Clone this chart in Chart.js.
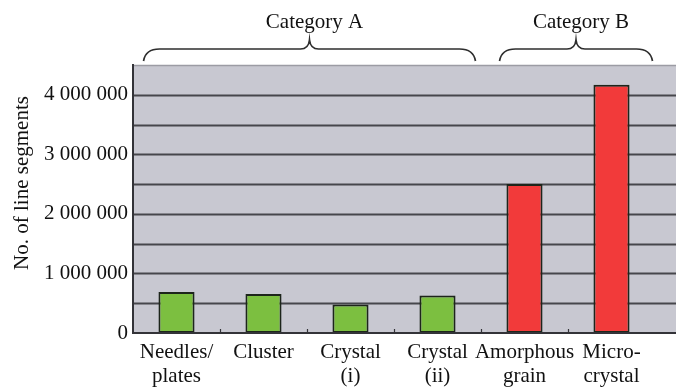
<!DOCTYPE html>
<html>
<head>
<meta charset="utf-8">
<script src="https://cdn.jsdelivr.net/npm/chart.js@4.4.1/dist/chart.umd.min.js"></script>
<style>
  html, body { margin: 0; padding: 0; background: #ffffff; overflow: hidden; }
  canvas { display: block; }
</style>
</head>
<body>
<canvas id="chart" width="676" height="387"></canvas>
<script>
// Particle shapes and their line-segment counts
const categories = [
  ['Needles/', 'plates'],
  ['Cluster'],
  ['Crystal', '(i)'],
  ['Crystal', '(ii)'],
  ['Amorphous', 'grain'],
  ['Micro-', 'crystal']
];
const segmentCounts = [690000, 655000, 480000, 630000, 2500000, 4170000];
const categoryGroup = [0, 0, 0, 0, 1, 1];
const groupNames = ['Category A', 'Category B'];
const groupColors = ['#7cbf40', '#f23a3a'];

const yTickValues = [0, 1000000, 2000000, 3000000, 4000000];
const yTickLabels = ['0', '1 000 000', '2 000 000', '3 000 000', '4 000 000'];
const yMax = 4500000;
const gridStep = 500000;

const SERIF = '"Liberation Serif", "Times New Roman", "DejaVu Serif", serif';
const INK = '#111111';

// Gray panel and horizontal rules, carried on to the right edge of the canvas
const plotDecor = {
  id: 'plotDecor',
  beforeDraw(chart) {
    const { ctx, chartArea: a, scales: { y } } = chart;
    const right = chart.width;
    ctx.save();
    ctx.fillStyle = '#c8c8d1';
    ctx.fillRect(a.left, a.top, right - a.left, a.bottom - a.top);
    ctx.strokeStyle = '#9c9ca4';
    ctx.lineWidth = 1.5;
    ctx.beginPath();
    ctx.moveTo(a.left, a.top + 0.5);
    ctx.lineTo(right, a.top + 0.5);
    ctx.stroke();
    ctx.strokeStyle = '#46464c';
    ctx.lineWidth = 1.8;
    y.ticks.forEach(t => {
      if (t.value <= 0 || t.value >= yMax) return;
      const py = Math.round(y.getPixelForValue(t.value)) + 0.5;
      ctx.beginPath();
      ctx.moveTo(a.left, py);
      ctx.lineTo(right, py);
      ctx.stroke();
    });
    ctx.restore();
  },
  afterDatasetsDraw(chart) {
    const { ctx, chartArea: a, scales: { x } } = chart;
    const right = chart.width;
    ctx.save();
    // base line
    ctx.strokeStyle = '#333338';
    ctx.lineWidth = 2;
    ctx.beginPath();
    ctx.moveTo(a.left, a.bottom);
    ctx.lineTo(right, a.bottom);
    ctx.stroke();
    // small marks between categories
    ctx.lineWidth = 1.2;
    for (let i = 1; i < categories.length; i++) {
      const px = Math.round((x.getPixelForValue(i - 1) + x.getPixelForValue(i)) / 2) + 0.5;
      ctx.beginPath();
      ctx.moveTo(px, a.bottom);
      ctx.lineTo(px, a.bottom - 4);
      ctx.stroke();
    }
    ctx.restore();
  },
  afterDraw(chart) {
    const { ctx, scales: { x } } = chart;
    ctx.save();
    // axis title
    ctx.fillStyle = INK;
    ctx.font = '21px ' + SERIF;
    ctx.textAlign = 'center';
    ctx.textBaseline = 'middle';
    ctx.translate(22, 183);
    ctx.rotate(-Math.PI / 2);
    ctx.fillText('No. of line segments', 0, 0);
    ctx.restore();

    // group braces with their names
    const braces = [
      { first: 0, last: 3, padL: 33, padR: 38 },
      { first: 4, last: 5, padL: 25, padR: 41 }
    ];
    ctx.save();
    ctx.strokeStyle = '#2e2e2e';
    ctx.lineWidth = 1.7;
    ctx.fillStyle = INK;
    ctx.font = '21px ' + SERIF;
    ctx.textAlign = 'center';
    ctx.textBaseline = 'alphabetic';
    braces.forEach((b, gi) => {
      const x0 = x.getPixelForValue(b.first) - b.padL;
      const x1 = x.getPixelForValue(b.last) + b.padR;
      const mid = (x0 + x1) / 2;
      const yEnd = 61, yBar = 49, yTip = 40;
      const rEnd = 16, rTip = 9;
      ctx.beginPath();
      ctx.moveTo(x0, yEnd);
      ctx.quadraticCurveTo(x0 + 2, yBar, x0 + rEnd, yBar);
      ctx.lineTo(mid - rTip, yBar);
      ctx.quadraticCurveTo(mid - 1, yBar, mid, yTip);
      ctx.quadraticCurveTo(mid + 1, yBar, mid + rTip, yBar);
      ctx.lineTo(x1 - rEnd, yBar);
      ctx.quadraticCurveTo(x1 - 2, yBar, x1, yEnd);
      ctx.stroke();
      ctx.fillText(groupNames[gi], mid + 5, 28);
    });
    ctx.restore();
  }
};

new Chart(document.getElementById('chart'), {
  type: 'bar',
  data: {
    labels: categories,
    datasets: [{
      data: segmentCounts,
      backgroundColor: categoryGroup.map(g => groupColors[g]),
      borderColor: '#1d251b',
      borderWidth: 2,
      borderSkipped: false,
      categoryPercentage: 1,
      barPercentage: 0.415
    }]
  },
  options: {
    responsive: false,
    animation: false,
    events: [],
    layout: { padding: { left: 0, top: 65, right: 21, bottom: 0 } },
    plugins: {
      legend: { display: false },
      tooltip: { enabled: false }
    },
    scales: {
      x: {
        offset: true,
        grid: { display: false, drawTicks: false, tickLength: 0 },
        border: { display: false },
        ticks: {
          color: INK,
          font: { family: SERIF, size: 21, lineHeight: 1.17 },
          padding: 7,
          maxRotation: 0,
          autoSkip: false
        },
        afterFit(scale) { scale.height = 54; }
      },
      y: {
        min: 0,
        max: yMax,
        grid: { display: false, drawTicks: false, tickLength: 0 },
        border: { display: true, color: '#333338', width: 2 },
        ticks: {
          stepSize: gridStep,
          color: INK,
          padding: 5,
          font: { family: SERIF, size: 21 },
          callback(value) {
            const i = yTickValues.indexOf(value);
            return i >= 0 ? yTickLabels[i] : '';
          }
        },
        afterFit(scale) { scale.width = 133; }
      }
    }
  },
  plugins: [plotDecor]
});
</script>
</body>
</html>
